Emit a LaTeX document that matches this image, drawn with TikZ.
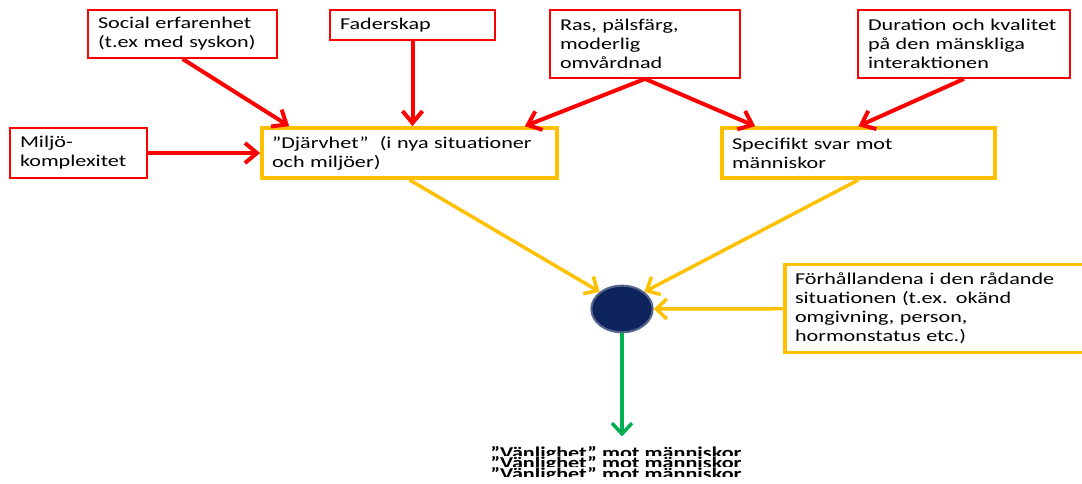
\documentclass[tikz,border=0pt]{standalone}
\usepackage{fontspec}
\setmainfont{Carlito}[FakeStretch=1.34]
\usetikzlibrary{arrows.meta,calc,shapes.geometric}
\definecolor{faktorrod}{RGB}{255,0,0}
\definecolor{gul}{RGB}{255,192,0}
\definecolor{gron}{RGB}{0,176,80}
\definecolor{marin}{RGB}{14,36,92}
\tikzset{
	faktor/.style={draw=faktorrod, line width=1.3pt, fill=white, align=left, inner xsep=7.5pt, font=\fontsize{12.4pt}{14.25pt}\selectfont},
	tillstand/.style={faktor, draw=gul, line width=2.8pt},
	rodpil/.style={draw=faktorrod, line width=3pt, -{Straight Barb[length=9pt,width=15pt]}},
	gulpil/.style={draw=gul, line width=2.6pt, -{Straight Barb[length=8pt,width=15pt]}},
	gronpil/.style={draw=gron, line width=2.6pt, -{Straight Barb[length=8pt,width=15pt]}},
	vanl/.style={anchor=base, inner sep=0pt, font=\fontsize{12.4pt}{14.25pt}\selectfont\bfseries}
}
\begin{document}
\begin{tikzpicture}[x=0.75pt, y=-0.75pt]
		\useasboundingbox (0,0) rectangle (1082,483);
		\node[faktor, text width=126.75pt, minimum height=36pt] (social) at (182.5,34) {Social erfarenhet\\(t.ex med syskon)};
		\node[faktor, text width=108.75pt, minimum height=22.5pt] (fader) at (412.5,25) {Faderskap};
		\node[faktor, text width=127.5pt, minimum height=51pt] (ras) at (645,44) {Ras, pälsfärg,\\moderlig\\omvårdnad};
		\node[faktor, text width=144pt, minimum height=51pt] (duration) at (964,44) {Duration och kvalitet\\på den mänskliga\\interaktionen};
		\node[faktor, text width=87.75pt, minimum height=37.5pt] (miljo) at (78.5,153) {Miljö-\\komplexitet};
		\node[tillstand, text width=206.25pt, minimum height=37.5pt] (djarv) at (409.5,153) {”Djärvhet”\ \ (i nya situationer\\och miljöer)};
		\node[tillstand, text width=189.75pt, minimum height=37.5pt] (spec) at (858.5,153) {Specifikt svar mot\\människor};
		\node[tillstand, text width=215.25pt, minimum height=66pt] (forh) at (938.5,308.5) {Förhållandena i den rådande\\situationen (t.ex. okänd\\omgivning, person,\\hormonstatus etc.)};
		\node[ellipse, fill=marin, draw=marin!70!white, line width=1.5pt, minimum width=46pt, minimum height=35pt, inner sep=0pt] (kreis) at (622,309) {};
		% tre rader, var och en delvis dold
		\foreach \n/\y in {1/458,2/468.5,3/479} {
			\begin{scope}
				\clip (470,\y-12.5) rectangle (770,\y-2.5);
				\node[vanl] (vanl\n) at (616,\y) {”Vänlighet” mot människor};
			\end{scope}
		}

		\path (social.south) edge[rodpil] ($(djarv.north west)+(29,0)$)
		(fader) edge[rodpil] (fader.south |- djarv.north)
		(ras.south) edge[rodpil] ($(djarv.north east)+(-34,0)$)
		(ras.south) edge[rodpil] ($(spec.north west)+(35,0)$)
		(duration.south) edge[rodpil] (spec.north)
		(miljo) edge[rodpil] (djarv)
		(djarv.south) edge[gulpil] (kreis.north west)
		(spec.south) edge[gulpil] (kreis.north east)
		(forh) edge[gulpil] (kreis)
		(kreis) edge[gronpil, shorten >=7pt] (kreis |- vanl1.north);
	\end{tikzpicture}
\end{document}
